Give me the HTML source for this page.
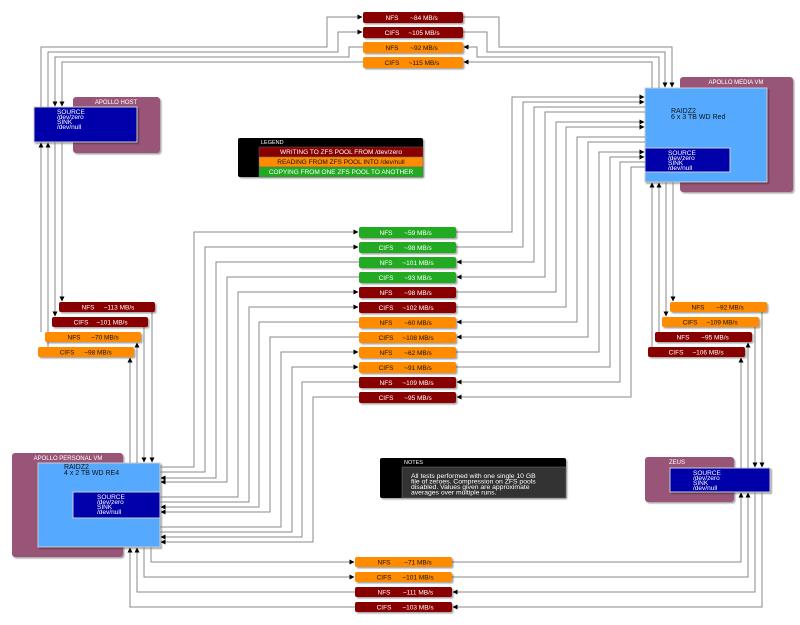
<!DOCTYPE html>
<html><head><meta charset="utf-8"><style>
html,body{margin:0;padding:0;background:#fff;}
svg{display:block;font-family:"Liberation Sans","DejaVu Sans",sans-serif;}
.l{fill:none;stroke:#8a8a8a;stroke-width:1;}
.t{font-size:6.5px;text-anchor:middle;}
.w{fill:#fff;} .k{fill:#111;}
</style></head><body>
<svg width="800" height="625" viewBox="0 0 800 625" xmlns="http://www.w3.org/2000/svg">
<defs>
<marker id="a" markerWidth="5" markerHeight="5" refX="4.5" refY="2.5" orient="auto" markerUnits="userSpaceOnUse">
<path d="M0,0 L5,2.5 L0,5 z" fill="#000"/></marker>
<filter id="s" x="-10%" y="-10%" width="130%" height="140%"><feDropShadow dx="1.5" dy="1.5" stdDeviation="0.8" flood-color="#000" flood-opacity="0.35"/></filter>
</defs>

<!-- Apollo host -->
<rect x="73" y="97" width="87" height="56" rx="3" fill="#995577" filter="url(#s)"/>
<text x="116" y="104" class="t w" style="font-size:6px">APOLLO HOST</text>
<rect x="34" y="107" width="103" height="35" fill="#0000aa" stroke="#ccc" stroke-width="1" filter="url(#s)"/>
<text x="57" y="114" class="w" style="font-size:6.5px">SOURCE</text>
<text x="57" y="119" class="w" style="font-size:6.5px">/dev/zero</text>
<text x="57" y="124" class="w" style="font-size:6.5px">SINK</text>
<text x="57" y="129" class="w" style="font-size:6.5px">/dev/null</text>

<!-- Apollo media VM -->
<rect x="680" y="77" width="113" height="115" rx="3" fill="#995577" filter="url(#s)"/>
<text x="736" y="84" class="t w" style="font-size:6px">APOLLO MEDIA VM</text>
<rect x="645" y="88" width="122" height="94" fill="#55aaff" stroke="#ccc" filter="url(#s)"/>
<text x="671" y="113" class="k" style="font-size:7px">RAIDZ2</text>
<text x="671" y="119" class="k" style="font-size:7px">6 x 3 TB WD Red</text>
<rect x="645" y="148" width="85" height="24" fill="#0000aa" stroke="#ccc"/>
<text x="668" y="155" class="w" style="font-size:6.5px">SOURCE</text>
<text x="668" y="160" class="w" style="font-size:6.5px">/dev/zero</text>
<text x="668" y="165" class="w" style="font-size:6.5px">SINK</text>
<text x="668" y="170" class="w" style="font-size:6.5px">/dev/null</text>

<!-- Apollo personal VM -->
<rect x="12" y="453" width="111" height="104" rx="3" fill="#995577" filter="url(#s)"/>
<text x="68" y="460" class="t w" style="font-size:6px">APOLLO PERSONAL VM</text>
<rect x="38" y="463" width="122" height="84" fill="#55aaff" stroke="#ccc" filter="url(#s)"/>
<text x="64" y="469" class="k" style="font-size:7px">RAIDZ2</text>
<text x="64" y="475" class="k" style="font-size:7px">4 x 2 TB WD RE4</text>
<rect x="73" y="492" width="87" height="26" fill="#0000aa" stroke="#ccc"/>
<text x="97" y="499" class="w" style="font-size:6.5px">SOURCE</text>
<text x="97" y="504" class="w" style="font-size:6.5px">/dev/zero</text>
<text x="97" y="509" class="w" style="font-size:6.5px">SINK</text>
<text x="97" y="514" class="w" style="font-size:6.5px">/dev/null</text>

<!-- Zeus -->
<rect x="645" y="457" width="89" height="45" rx="3" fill="#995577" filter="url(#s)"/>
<text x="669" y="464" class="w" style="font-size:6px">ZEUS</text>
<rect x="670" y="468" width="100" height="24" fill="#0000aa" stroke="#ccc" filter="url(#s)"/>
<text x="693" y="475" class="w" style="font-size:6.5px">SOURCE</text>
<text x="693" y="480" class="w" style="font-size:6.5px">/dev/zero</text>
<text x="693" y="485" class="w" style="font-size:6.5px">SINK</text>
<text x="693" y="490" class="w" style="font-size:6.5px">/dev/null</text>

<!-- Legend -->
<rect x="238" y="138" width="185" height="39" rx="2" fill="#000" filter="url(#s)"/>
<text x="261" y="144" class="w" style="font-size:5.5px">LEGEND</text>
<rect x="259" y="147" width="164" height="10" fill="#880000" stroke="#666" stroke-width="0.5"/>
<text x="341" y="154" class="t w">WRITING TO ZFS POOL FROM /dev/zero</text>
<rect x="259" y="157" width="164" height="10" fill="#ff8c00" stroke="#666" stroke-width="0.5"/>
<text x="341" y="164" class="t k">READING FROM ZFS POOL INTO /dev/null</text>
<rect x="259" y="167" width="164" height="10" fill="#22aa22" stroke="#666" stroke-width="0.5"/>
<text x="341" y="174" class="t w">COPYING FROM ONE ZFS POOL TO ANOTHER</text>

<!-- Notes -->
<rect x="380" y="458" width="186" height="40" rx="2" fill="#000" filter="url(#s)"/>
<text x="404" y="464" class="w" style="font-size:5.5px">NOTES</text>
<rect x="402" y="467" width="164" height="31" fill="#333" stroke="#777" stroke-width="0.5"/>
<text x="411" y="478" class="w" style="font-size:6.8px">All tests performed with one single 10 GB</text>
<text x="411" y="483.5" class="w" style="font-size:6.8px">file of zeroes. Compression on ZFS pools</text>
<text x="411" y="489" class="w" style="font-size:6.8px">disabled. Values given are approximate</text>
<text x="411" y="494.5" class="w" style="font-size:6.8px">averages over multiple runs.</text>

<!-- connectors -->
<g class="l">
<!-- top -->
<path d="M41,107 V47 H327 V17 H362" marker-end="url(#a)"/>
<path d="M48,107 V52 H338 V32 H362" marker-end="url(#a)"/>
<path d="M363,47 H349 V57 H55 V106" marker-end="url(#a)"/>
<path d="M363,62 H62 V106" marker-end="url(#a)"/>
<path d="M463,17 H499 V47 H672 V87" marker-end="url(#a)"/>
<path d="M463,32 H487 V52 H665 V87" marker-end="url(#a)"/>
<path d="M659,88 V57 H477 V47 H464" marker-end="url(#a)"/>
<path d="M652,88 V62 H464" marker-end="url(#a)"/>
<!-- left -->
<path d="M62,142 V301" marker-end="url(#a)"/>
<path d="M152,312 V462" marker-end="url(#a)"/>
<path d="M55,142 V316" marker-end="url(#a)"/>
<path d="M144,327 V462" marker-end="url(#a)"/>
<path d="M137,463 V343" marker-end="url(#a)"/>
<path d="M41,332 V143" marker-end="url(#a)"/>
<path d="M130,463 V358" marker-end="url(#a)"/>
<path d="M48,347 V143" marker-end="url(#a)"/>
<!-- right -->
<path d="M673,182 V301" marker-end="url(#a)"/>
<path d="M762,312 V467" marker-end="url(#a)"/>
<path d="M666,182 V316" marker-end="url(#a)"/>
<path d="M755,327 V467" marker-end="url(#a)"/>
<path d="M748,468 V343" marker-end="url(#a)"/>
<path d="M659,332 V183" marker-end="url(#a)"/>
<path d="M741,468 V358" marker-end="url(#a)"/>
<path d="M652,347 V183" marker-end="url(#a)"/>
<!-- bottom -->
<path d="M151,547 V562 H354" marker-end="url(#a)"/>
<path d="M452,562 H741 V493" marker-end="url(#a)"/>
<path d="M144,547 V577 H354" marker-end="url(#a)"/>
<path d="M452,577 H748 V493" marker-end="url(#a)"/>
<path d="M755,492 V592 H453" marker-end="url(#a)"/>
<path d="M355,592 H137 V548" marker-end="url(#a)"/>
<path d="M762,492 V607 H453" marker-end="url(#a)"/>
<path d="M355,607 H130 V548" marker-end="url(#a)"/>
<!-- middle: personal->media (0,1,4,5,8,9) -->
<path d="M160,467 H194 V232 H358" marker-end="url(#a)"/><path d="M456,232 H512 V97 H644" marker-end="url(#a)"/>
<path d="M160,472 H205 V247 H358" marker-end="url(#a)"/><path d="M456,247 H523 V102 H644" marker-end="url(#a)"/>
<path d="M160,497 H238 V292 H358" marker-end="url(#a)"/><path d="M456,292 H556 V122 H644" marker-end="url(#a)"/>
<path d="M160,502 H249 V307 H358" marker-end="url(#a)"/><path d="M456,307 H566 V127 H644" marker-end="url(#a)"/>
<path d="M160,527 H281 V352 H358" marker-end="url(#a)"/><path d="M456,352 H599 V152 H644" marker-end="url(#a)"/>
<path d="M160,532 H292 V367 H358" marker-end="url(#a)"/><path d="M456,367 H610 V157 H644" marker-end="url(#a)"/>
<!-- media->personal (2,3,6,7,10,11) -->
<path d="M645,107 H534 V262 H457" marker-end="url(#a)"/><path d="M359,262 H216 V478 H161" marker-end="url(#a)"/>
<path d="M645,112 H545 V277 H457" marker-end="url(#a)"/><path d="M359,277 H227 V482 H161" marker-end="url(#a)"/>
<path d="M645,137 H577 V322 H457" marker-end="url(#a)"/><path d="M359,322 H259 V507 H161" marker-end="url(#a)"/>
<path d="M645,142 H588 V337 H457" marker-end="url(#a)"/><path d="M359,337 H270 V512 H161" marker-end="url(#a)"/>
<path d="M645,162 H620 V382 H457" marker-end="url(#a)"/><path d="M359,382 H302 V537 H161" marker-end="url(#a)"/>
<path d="M645,167 H631 V397 H457" marker-end="url(#a)"/><path d="M359,397 H313 V542 H161" marker-end="url(#a)"/>
</g>

<!-- labels -->
<g filter="url(#s)">
<rect x="363" y="12" width="100" height="11" rx="2" fill="#880000"/>
<rect x="363" y="27" width="100" height="11" rx="2" fill="#880000"/>
<rect x="363" y="42" width="100" height="11" rx="2" fill="#ff8c00"/>
<rect x="363" y="57" width="100" height="11" rx="2" fill="#ff8c00"/>

<rect x="359" y="227" width="97" height="11" rx="2" fill="#22aa22"/>
<rect x="359" y="242" width="97" height="11" rx="2" fill="#22aa22"/>
<rect x="359" y="257" width="97" height="11" rx="2" fill="#22aa22"/>
<rect x="359" y="272" width="97" height="11" rx="2" fill="#22aa22"/>
<rect x="359" y="287" width="97" height="11" rx="2" fill="#880000"/>
<rect x="359" y="302" width="97" height="11" rx="2" fill="#880000"/>
<rect x="359" y="317" width="97" height="11" rx="2" fill="#ff8c00"/>
<rect x="359" y="332" width="97" height="11" rx="2" fill="#ff8c00"/>
<rect x="359" y="347" width="97" height="11" rx="2" fill="#ff8c00"/>
<rect x="359" y="362" width="97" height="11" rx="2" fill="#ff8c00"/>
<rect x="359" y="377" width="97" height="11" rx="2" fill="#880000"/>
<rect x="359" y="392" width="97" height="11" rx="2" fill="#880000"/>

<rect x="59" y="302" width="96" height="10" rx="2" fill="#880000"/>
<rect x="52" y="317" width="96" height="10" rx="2" fill="#880000"/>
<rect x="45" y="332" width="96" height="10" rx="2" fill="#ff8c00"/>
<rect x="38" y="347" width="96" height="10" rx="2" fill="#ff8c00"/>

<rect x="670" y="302" width="97" height="10" rx="2" fill="#ff8c00"/>
<rect x="662" y="317" width="97" height="10" rx="2" fill="#ff8c00"/>
<rect x="655" y="332" width="97" height="10" rx="2" fill="#880000"/>
<rect x="648" y="347" width="97" height="10" rx="2" fill="#880000"/>

<rect x="355" y="557" width="97" height="10" rx="2" fill="#ff8c00"/>
<rect x="355" y="572" width="97" height="10" rx="2" fill="#ff8c00"/>
<rect x="355" y="587" width="97" height="10" rx="2" fill="#880000"/>
<rect x="355" y="602" width="97" height="10" rx="2" fill="#880000"/>
</g>
<g class="t">
<text x="392" y="20" class="w">NFS</text><text x="424" y="20" class="w">~84 MB/s</text>
<text x="392" y="35" class="w">CIFS</text><text x="424" y="35" class="w">~105 MB/s</text>
<text x="392" y="50" class="k">NFS</text><text x="424" y="50" class="k">~92 MB/s</text>
<text x="392" y="65" class="k">CIFS</text><text x="424" y="65" class="k">~115 MB/s</text>

<text x="386" y="235" class="w">NFS</text><text x="418" y="235" class="w">~59 MB/s</text>
<text x="386" y="250" class="w">CIFS</text><text x="418" y="250" class="w">~98 MB/s</text>
<text x="386" y="265" class="w">NFS</text><text x="418" y="265" class="w">~101 MB/s</text>
<text x="386" y="280" class="w">CIFS</text><text x="418" y="280" class="w">~93 MB/s</text>
<text x="386" y="295" class="w">NFS</text><text x="418" y="295" class="w">~98 MB/s</text>
<text x="386" y="310" class="w">CIFS</text><text x="418" y="310" class="w">~102 MB/s</text>
<text x="386" y="325" class="k">NFS</text><text x="418" y="325" class="k">~60 MB/s</text>
<text x="386" y="340" class="k">CIFS</text><text x="418" y="340" class="k">~108 MB/s</text>
<text x="386" y="355" class="k">NFS</text><text x="418" y="355" class="k">~62 MB/s</text>
<text x="386" y="370" class="k">CIFS</text><text x="418" y="370" class="k">~91 MB/s</text>
<text x="386" y="385" class="w">NFS</text><text x="418" y="385" class="w">~109 MB/s</text>
<text x="386" y="400" class="w">CIFS</text><text x="418" y="400" class="w">~95 MB/s</text>

<text x="88" y="309.5" class="w">NFS</text><text x="119" y="309.5" class="w">~113 MB/s</text>
<text x="81" y="324.5" class="w">CIFS</text><text x="112" y="324.5" class="w">~101 MB/s</text>
<text x="74" y="339.5" class="k">NFS</text><text x="105" y="339.5" class="k">~70 MB/s</text>
<text x="67" y="354.5" class="k">CIFS</text><text x="98" y="354.5" class="k">~98 MB/s</text>

<text x="698" y="309.5" class="k">NFS</text><text x="730" y="309.5" class="k">~92 MB/s</text>
<text x="690" y="324.5" class="k">CIFS</text><text x="722" y="324.5" class="k">~109 MB/s</text>
<text x="683" y="339.5" class="w">NFS</text><text x="715" y="339.5" class="w">~95 MB/s</text>
<text x="676" y="354.5" class="w">CIFS</text><text x="708" y="354.5" class="w">~106 MB/s</text>

<text x="384" y="564.5" class="k">NFS</text><text x="418" y="564.5" class="k">~71 MB/s</text>
<text x="384" y="579.5" class="k">CIFS</text><text x="418" y="579.5" class="k">~101 MB/s</text>
<text x="384" y="594.5" class="w">NFS</text><text x="418" y="594.5" class="w">~111 MB/s</text>
<text x="384" y="609.5" class="w">CIFS</text><text x="418" y="609.5" class="w">~103 MB/s</text>
</g>
</svg>
</body></html>
